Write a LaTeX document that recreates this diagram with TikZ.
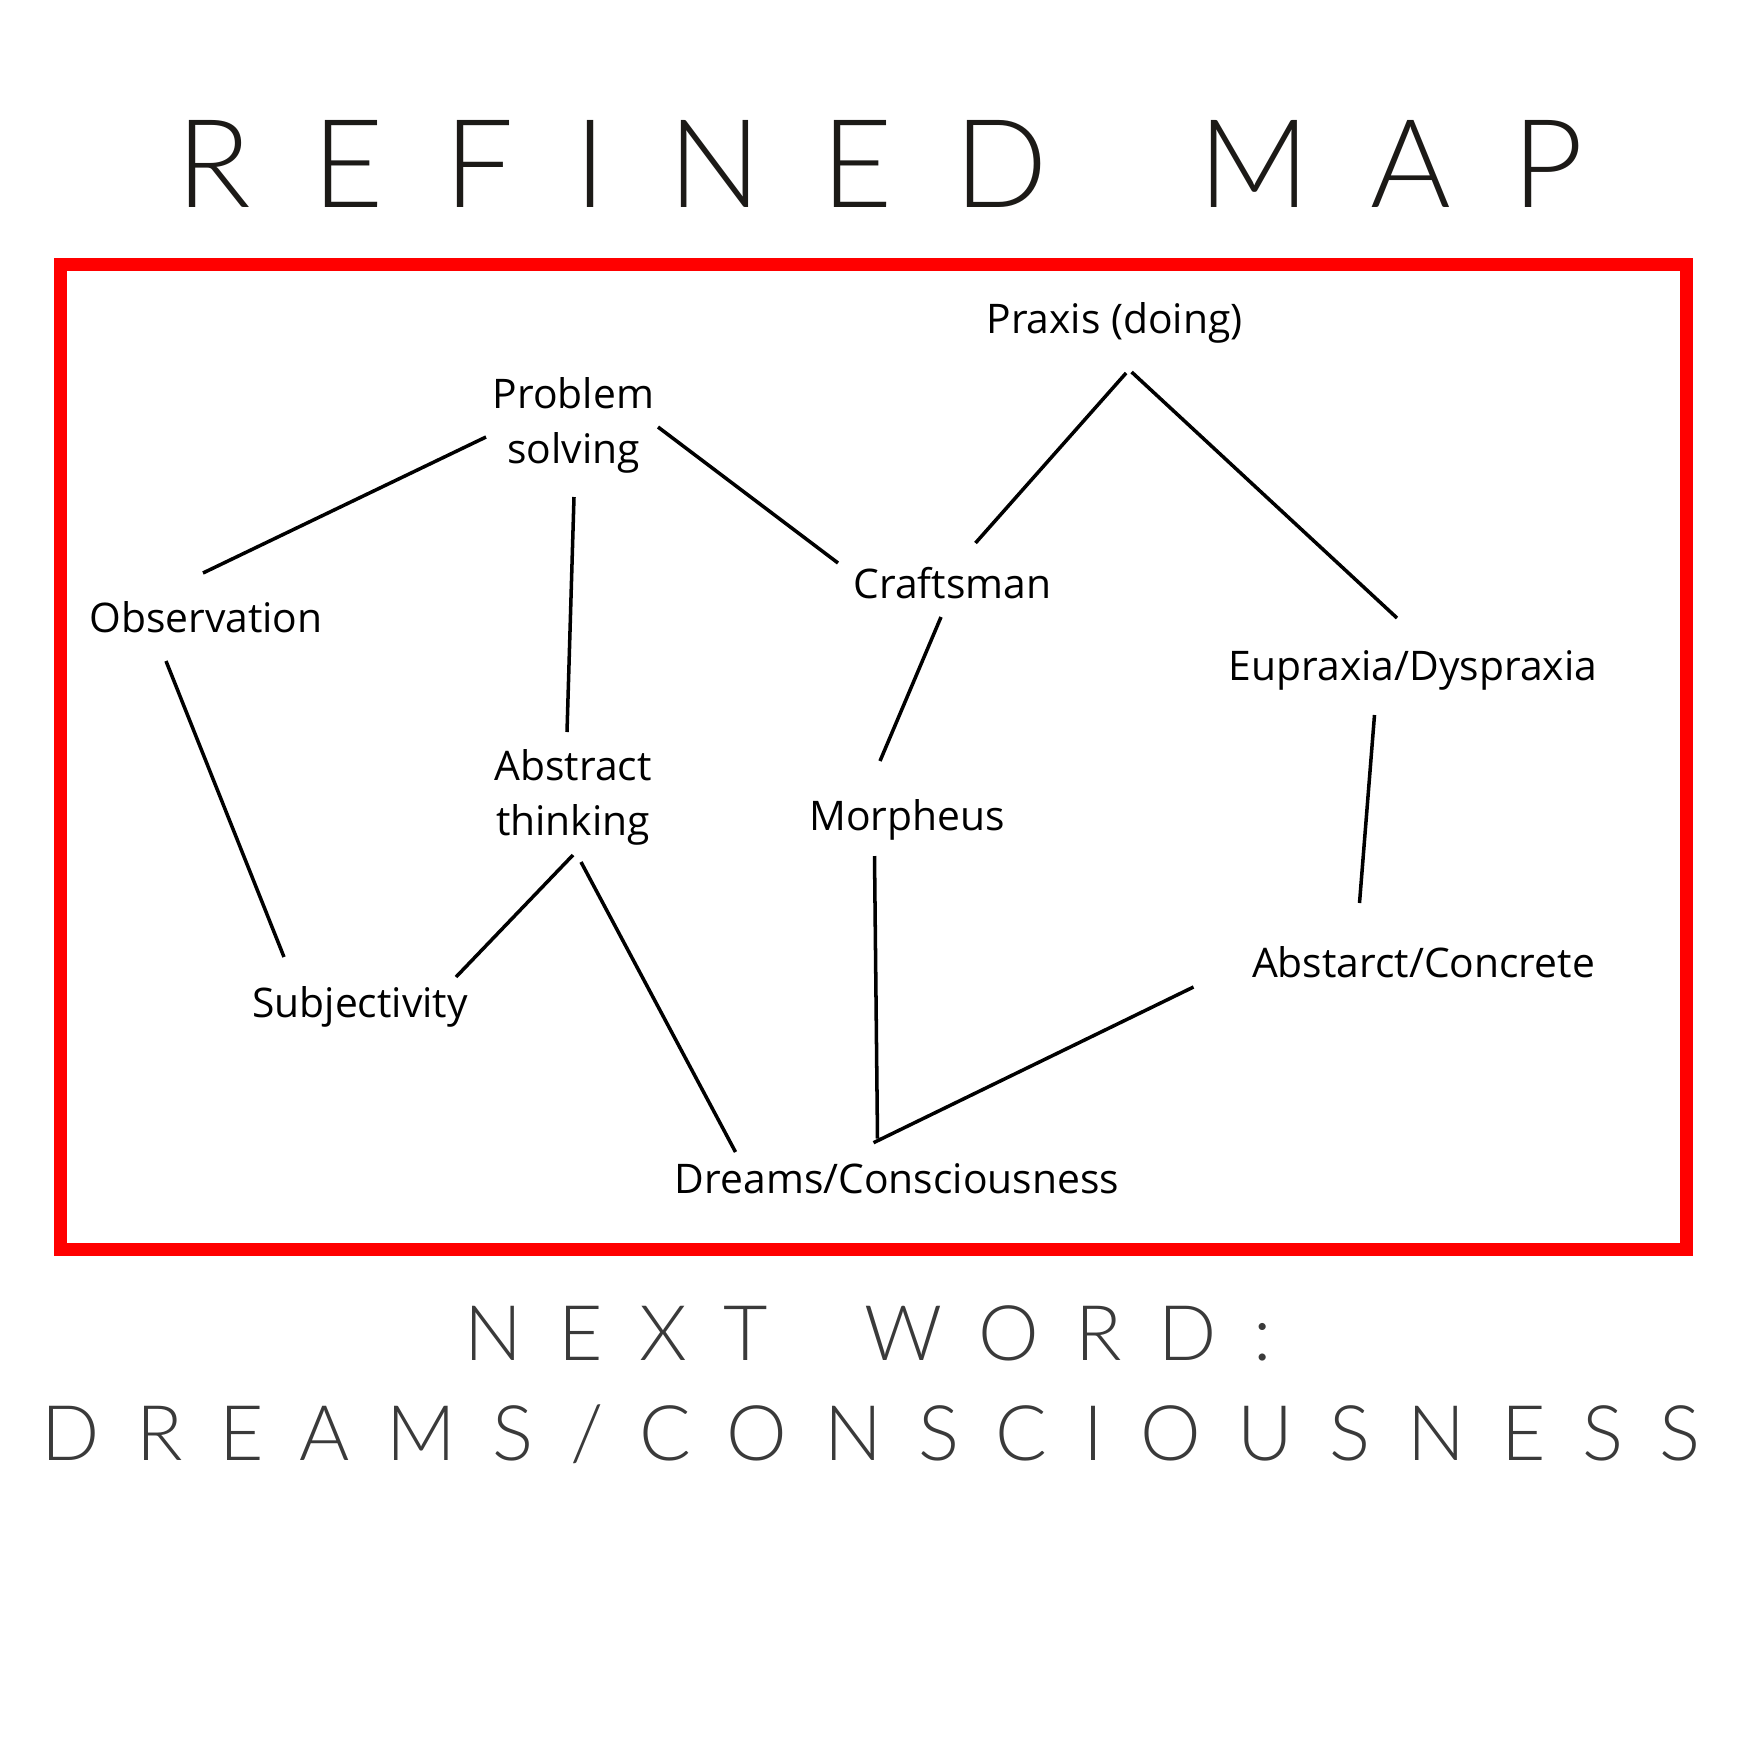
\documentclass[tikz,border=0pt]{standalone}
\usepackage{fontspec}
\usepackage{tikz}
\newfontfamily\labelfont{Open Sans}
\newfontfamily\headfont[LetterSpace=49.5]{Lato Light}
\newfontfamily\subfont[LetterSpace=47.5]{Lato Light}
\definecolor{headgray}{HTML}{1C1A17}
\definecolor{subgray}{HTML}{3A3A3A}

\begin{document}
\begin{tikzpicture}[x=0.01cm,y=-0.01cm,
  lbl/.style={anchor=base,align=center,font=\labelfont\fontsize{11.6}{15.6}\selectfont},
  link/.style={line width=1pt}]
\useasboundingbox (0,0) rectangle (1748,1748);
\node[anchor=base,text=headgray,font=\headfont\fontsize{35}{40}\selectfont] (title) at (880,207) {REFINED\hspace{0.56cm} MAP};
\draw[red,line width=0.13cm] (60.5,264) rectangle (1686,1249);
% second line of a two-line label carries the base anchor
\foreach \n/\x/\y/\t in {praxis/1114.6/333/{Praxis (doing)},ps/573.5/463/{Problem\\solving},
  obs/206/632/{Observation},craft/952.5/598/{Craftsman},eup/1413/680/{Eupraxia/Dyspraxia},
  at/573/835/{Abstract\\thinking},morph/907/830/{Morpheus},subj/360/1017.5/{Subjectivity},
  absc/1423.5/977/{Abstarct/Concrete},dreams/897/1193/{Dreams/Consciousness}} {
  \node[lbl] (\n) at (\x,\y) {\t};
}
\foreach \a/\da/\b/\db in {ps/{-87.5,-26}/obs/{-3,-59},ps/{84.5,-36}/craft/{-114.5,-35},
  ps/{0.5,34}/at/{-6,-103},praxis/{11.5,40}/craft/{23,-55},praxis/{17,39}/eup/{-16,-62},
  obs/{-40,29}/subj/{-76,-60.5},craft/{-11.5,19}/morph/{-27,-69},at/{0,20}/subj/{96,-40.5},
  at/{8,27}/dreams/{-161.5,-41},morph/{-32.5,26}/dreams/{-19.5,-54.5},
  absc/{-230,10}/dreams/{-23.5,-50.3},eup/{-38.5,35}/absc/{-64,-74}} {
  \draw[link] ([shift={(\da)}]\a.base) -- ([shift={(\db)}]\b.base);
}
\node[anchor=base,text=subgray,font=\subfont\fontsize{21.8}{26}\selectfont] (next) at (868,1360) {NEXT\hspace{0.39cm} WORD:};
\node[anchor=base,text=subgray,font=\subfont\fontsize{21.8}{26}\selectfont] (word) at (871,1460) {DREAMS/CONSCIOUSNESS};
\end{tikzpicture}
\end{document}
